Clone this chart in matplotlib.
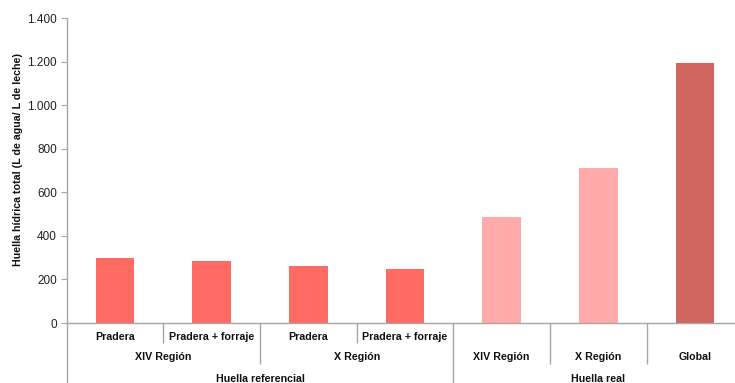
import matplotlib
matplotlib.use("Agg")
import matplotlib.pyplot as plt
from matplotlib.transforms import blended_transform_factory

# Data
sub_labels = ["Pradera", "Pradera + forraje", "Pradera", "Pradera + forraje"]
region_labels = ["XIV Región", "X Región", "XIV Región", "X Región", "Global"]
group_labels = ["Huella referencial", "Huella real"]
values = [297, 283, 260, 246, 485, 711, 1194]
bar_colors = ["#FF6A62", "#FF6A62", "#FF6A62", "#FF6A62", "#FFAAAA", "#FFAAAA", "#D16661"]
y_ticks = [0, 200, 400, 600, 800, 1000, 1200, 1400]
y_tick_labels = ["0", "200", "400", "600", "800", "1.000", "1.200", "1.400"]
y_label = "Huella hídrica total (L de agua/ L de leche)"

W, H = 735, 383
fig = plt.figure(figsize=(W / 100, H / 100), dpi=100)
plt.rcParams["font.family"] = ["Liberation Sans", "DejaVu Sans"]

x0, x1 = 66.7, 743.3
y0, y1 = 323.0, 18.3
ax = fig.add_axes([x0 / W, (H - y0) / H, (x1 - x0) / W, (y0 - y1) / H])

xs = list(range(len(values)))
ax.bar(xs, values, width=0.4, color=bar_colors, zorder=2)
ax.set_xlim(-0.5, len(values) - 0.5)
ax.set_ylim(0, 1400)
ax.set_yticks(y_ticks)
ax.set_yticklabels(y_tick_labels, fontsize=8.5, color="#222222")
ax.set_xticks([])

axis_col = "#A6A6A6"
for side in ["top", "right"]:
    ax.spines[side].set_visible(False)
ax.spines["left"].set_color(axis_col)
ax.spines["bottom"].set_color(axis_col)
ax.spines["left"].set_linewidth(1.0)
ax.spines["bottom"].set_linewidth(1.0)
ax.tick_params(axis="y", direction="out", length=4, color=axis_col, pad=3)

# Rotated value-axis title
fig.text(18 / W, (H - 160) / H, y_label, rotation=90, ha="center", va="center",
         fontsize=7.7, fontweight="bold", color="#111111")

# Hierarchical category axis
tr = blended_transform_factory(ax.transData, fig.transFigure)

def fy(py):
    return (H - py) / H

def vline(x, ybot):
    ax.plot([x, x], [fy(y0), fy(ybot)], transform=tr, color=axis_col,
            lw=1.0, clip_on=False, solid_capstyle="butt")

vline(-0.5, H)
for x in (0.5, 2.5):
    vline(x, 343)
for x in (1.5, 4.5, 5.5):
    vline(x, 364)
vline(3.5, H)

kw = dict(transform=tr, ha="center", va="center", fontsize=7.7,
          fontweight="bold", color="#111111", clip_on=False)
for i, lab in enumerate(sub_labels):
    ax.text(i, fy(337), lab, **kw)
for x, lab in zip([0.5, 2.5, 4, 5, 6], region_labels):
    ax.text(x, fy(357.5), lab, **kw)
for x, lab in zip([1.5, 5], group_labels):
    ax.text(x, fy(379), lab, **kw)

fig.savefig("out.png", dpi=100)
